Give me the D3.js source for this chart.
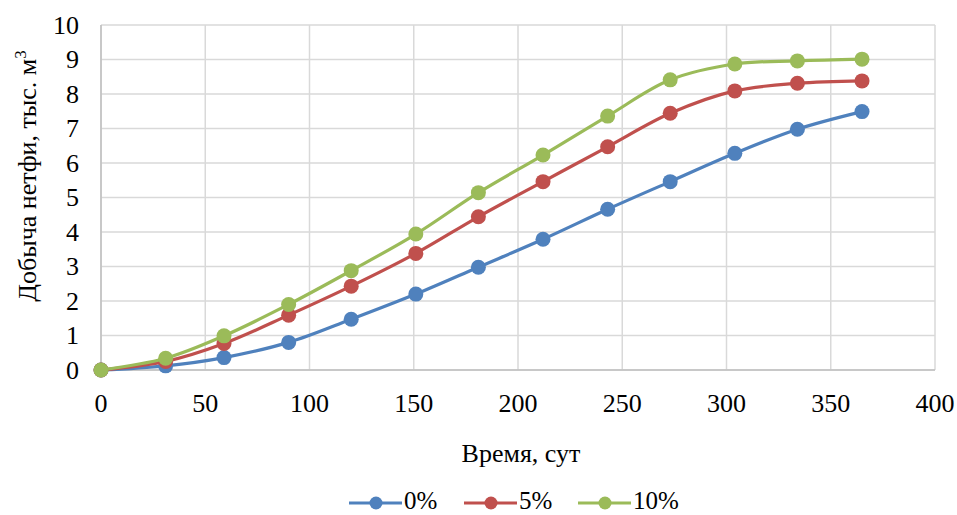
<!DOCTYPE html>
<html><head><meta charset="utf-8">
<script src="https://cdn.jsdelivr.net/npm/d3@7"></script>
<style>body{margin:0;background:#fff}svg{display:block}text{font-family:"Liberation Serif","Times New Roman",serif;fill:#000}</style>
</head><body><svg id="c" width="957" height="515"></svg>
<script>
const days = [0, 31, 59, 90, 120, 151, 181, 212, 243, 273, 304, 334, 365];
const s0 = [0, 0.12, 0.36, 0.80, 1.47, 2.20, 2.98, 3.79, 4.66, 5.46, 6.28, 6.98, 7.49];
const s5 = [0, 0.25, 0.77, 1.59, 2.43, 3.38, 4.44, 5.46, 6.47, 7.44, 8.09, 8.31, 8.38];
const s10 = [0, 0.34, 0.99, 1.90, 2.88, 3.94, 5.14, 6.23, 7.36, 8.41, 8.87, 8.96, 9.01];
const seriesNames = ["0%", "5%", "10%"];
const colors = ["#4F81BD", "#C0504D", "#9BBB59"];
const xTicks = [0, 50, 100, 150, 200, 250, 300, 350, 400];
const yTicks = [0, 1, 2, 3, 4, 5, 6, 7, 8, 9, 10];

const svg = d3.select("#c");
const x = d3.scaleLinear().domain([0, 400]).range([101, 935]);
const y = d3.scaleLinear().domain([0, 10]).range([370, 25]);
const FS = 26;

// grid
svg.append("g").selectAll("line").data(yTicks).join("line")
  .attr("x1", x(0)).attr("x2", x(400)).attr("y1", d => y(d)).attr("y2", d => y(d))
  .attr("stroke", "#d9d9d9").attr("stroke-width", 1.5);
svg.append("g").selectAll("line").data(xTicks).join("line")
  .attr("y1", y(0)).attr("y2", y(10)).attr("x1", d => x(d)).attr("x2", d => x(d))
  .attr("stroke", "#d9d9d9").attr("stroke-width", 1.5);
// axes lines
svg.append("line").attr("x1", x(0)).attr("x2", x(400)).attr("y1", y(0)).attr("y2", y(0)).attr("stroke", "#bfbfbf").attr("stroke-width", 1.5);
svg.append("line").attr("x1", x(0)).attr("x2", x(0)).attr("y1", y(0)).attr("y2", y(10)).attr("stroke", "#bfbfbf").attr("stroke-width", 1.5);

// tick labels
svg.append("g").selectAll("text").data(yTicks).join("text")
  .attr("x", 79).attr("y", d => y(d)).attr("dy", "0.33em").attr("text-anchor", "end")
  .attr("font-size", FS).text(d => d);
svg.append("g").selectAll("text").data(xTicks).join("text")
  .attr("x", d => x(d)).attr("y", 412).attr("text-anchor", "middle")
  .attr("font-size", FS).text(d => d);

// axis titles
svg.append("text").attr("x", x(200) + 3).attr("y", 462).attr("text-anchor", "middle").attr("font-size", FS).text("Время, сут");
const yt = svg.append("text").attr("transform", "translate(36,176) rotate(-90)").attr("text-anchor", "middle").attr("font-size", FS);
yt.append("tspan").text("Добыча нетфи, тыс. м");
yt.append("tspan").attr("font-size", 17).attr("dy", -10).text("3");

// series
const data = [s0, s5, s10];
const line = d3.line().x((d, i) => x(days[i])).y(d => y(d)).curve(d3.curveCatmullRom.alpha(0.5));
data.forEach((s, k) => {
  svg.append("path").datum(s).attr("d", line).attr("fill", "none")
    .attr("stroke", colors[k]).attr("stroke-width", 3.2);
  svg.append("g").selectAll("circle").data(s).join("circle")
    .attr("cx", (d, i) => x(days[i])).attr("cy", d => y(d)).attr("r", 7.5).attr("fill", colors[k]);
});

// legend
const lx = [349, 464, 578];
const lg = svg.append("g");
seriesNames.forEach((n, k) => {
  lg.append("line").attr("x1", lx[k]).attr("x2", lx[k] + 53).attr("y1", 503).attr("y2", 503)
    .attr("stroke", colors[k]).attr("stroke-width", 3);
  lg.append("circle").attr("cx", lx[k] + 27).attr("cy", 503).attr("r", 6.5).attr("fill", colors[k]);
  lg.append("text").attr("x", lx[k] + 55).attr("y", 509).attr("font-size", 25).text(n);
});
</script></body></html>
